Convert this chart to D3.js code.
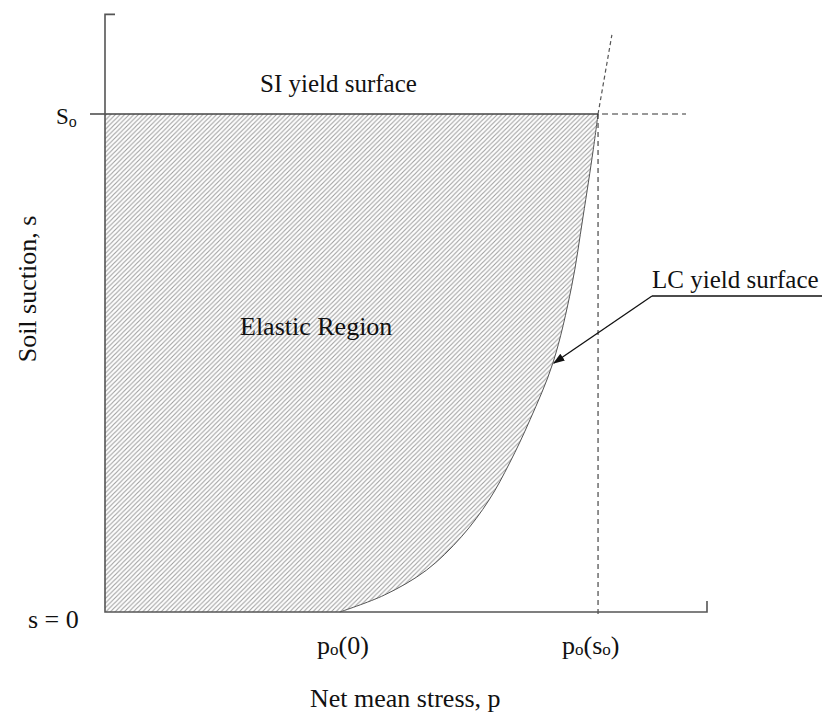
<!DOCTYPE html>
<html>
<head>
<meta charset="utf-8">
<script src="https://cdn.jsdelivr.net/npm/d3@7"></script>
<style>
  html, body { margin: 0; padding: 0; background: #fff; }
  svg text { font-family: "Liberation Serif", "Times New Roman", serif; fill: #111; }
</style>
</head>
<body>
<svg id="chart" width="827" height="715"></svg>
<script>
// Net mean stress (normalised) and suction (normalised to s_o = 1)
const pDomain = [0, 1];
const sDomain = [0, 1.2];

const p0Zero = 0.390;   // p_o(0)
const p0So = 0.819;     // p_o(s_o)
const sO = 1.0;         // s_o

// LC yield surface points (p, s)
const lcP = [0.390, 0.464, 0.534, 0.592, 0.638, 0.672, 0.706, 0.744, 0.775, 0.794, 0.811, 0.819];
const lcS = [0.000, 0.034, 0.084, 0.151, 0.225, 0.299, 0.386, 0.500, 0.653, 0.793, 0.928, 1.000];

// dashed continuation of the LC curve above s_o
const lcExtP = [0.819, 0.842];
const lcExtS = [1.000, 1.159];

const xTickLabels = ["0", "s"];

const svg = d3.select("#chart");
const x = d3.scaleLinear().domain(pDomain).range([105, 707]);
const y = d3.scaleLinear().domain(sDomain).range([612, 14.4]);

// hatch pattern
const defs = svg.append("defs");
const pat = defs.append("pattern")
  .attr("id", "hatch")
  .attr("patternUnits", "userSpaceOnUse")
  .attr("width", 4.6).attr("height", 4.6);
pat.append("path")
  .attr("d", "M-1,1 l2,-2 M0,4.6 l4.6,-4.6 M3.6,5.6 l2,-2")
  .attr("stroke", "#9e9e9e").attr("stroke-width", 1.1);

const lcPts = lcP.map((p, i) => [p, lcS[i]]);
const curveLine = d3.line().x(d => x(d[0])).y(d => y(d[1])).curve(d3.curveCatmullRom.alpha(0.5));

// elastic region: bounded by axes, SI line and the LC curve
const curvePath = curveLine(lcPts);
const regionPath = `M${x(0)},${y(0)} L${x(lcP[0])},${y(lcS[0])}` +
  curvePath.replace(/^M[^CLc]*/, "") +
  ` L${x(0)},${y(sO)} Z`;
svg.append("path").attr("d", regionPath).attr("fill", "url(#hatch)").attr("stroke", "none");

// LC curve
svg.append("path").attr("d", curvePath)
  .attr("fill", "none").attr("stroke", "#555").attr("stroke-width", 1);
svg.append("path")
  .attr("d", d3.line().x(d => x(d[0])).y(d => y(d[1]))(lcExtP.map((p, i) => [p, lcExtS[i]])))
  .attr("fill", "none").attr("stroke", "#555").attr("stroke-width", 1.2)
  .attr("stroke-dasharray", "4,3");

// SI yield line at s_o
svg.append("line")
  .attr("x1", x(0) - 15).attr("x2", x(p0So))
  .attr("y1", y(sO)).attr("y2", y(sO))
  .attr("stroke", "#444").attr("stroke-width", 1.3);
svg.append("line")
  .attr("x1", x(p0So) + 4).attr("x2", 686)
  .attr("y1", y(sO)).attr("y2", y(sO))
  .attr("stroke", "#333").attr("stroke-width", 1.2)
  .attr("stroke-dasharray", "6,4");

// vertical dashed at p_o(s_o)
svg.append("line")
  .attr("x1", x(p0So)).attr("x2", x(p0So))
  .attr("y1", y(sO)).attr("y2", y(0) + 4)
  .attr("stroke", "#222").attr("stroke-width", 1)
  .attr("stroke-dasharray", "5,4");

// axes
const axisColor = "#555";
svg.append("path")
  .attr("d", `M${x(0) + 10},${y(1.2)} H${x(0)} V${y(0)} H${x(1)} V${y(0) - 11}`)
  .attr("fill", "none").attr("stroke", axisColor).attr("stroke-width", 1.6);

// labels
svg.append("text").attr("x", 260).attr("y", 92).attr("font-size", 25).text("SI yield surface");
svg.append("text").attr("x", 240).attr("y", 335).attr("font-size", 26).text("Elastic Region");

svg.append("text").attr("x", 652).attr("y", 288).attr("font-size", 25).text("LC yield surface");
svg.append("line").attr("x1", 652).attr("x2", 822).attr("y1", 296).attr("y2", 296)
  .attr("stroke", "#111").attr("stroke-width", 1.3);

// arrow to the LC curve
defs.append("marker").attr("id", "arrow")
  .attr("viewBox", "0 0 10 10").attr("refX", 9).attr("refY", 5)
  .attr("markerWidth", 9).attr("markerHeight", 9).attr("orient", "auto")
  .append("path").attr("d", "M0,1.5 L10,5 L0,8.5 Z").attr("fill", "#111");
svg.append("line")
  .attr("x1", 652).attr("y1", 296)
  .attr("x2", x(0.744) + 1).attr("y2", y(0.5))
  .attr("stroke", "#111").attr("stroke-width", 1.3)
  .attr("marker-end", "url(#arrow)");

// y tick labels
const so = svg.append("text").attr("x", 56).attr("y", 124).attr("font-size", 23);
so.append("tspan").text("S");
so.append("tspan").attr("font-size", 16).attr("dy", 3).text("o");
svg.append("text").attr("x", 28).attr("y", 628).attr("font-size", 26).text("s = 0");

// x tick labels
const xl1 = svg.append("text").attr("x", 317).attr("y", 654).attr("font-size", 26);
xl1.append("tspan").text("p");
xl1.append("tspan").attr("font-size", 17).attr("dy", 1).text("o");
xl1.append("tspan").attr("dy", -1).text("(" + xTickLabels[0] + ")");

const xl2 = svg.append("text").attr("x", 562).attr("y", 654).attr("font-size", 26);
xl2.append("tspan").text("p");
xl2.append("tspan").attr("font-size", 17).attr("dy", 1).text("o");
xl2.append("tspan").attr("dy", -1).text("(" + xTickLabels[1]);
xl2.append("tspan").attr("font-size", 17).attr("dy", 1).text("o");
xl2.append("tspan").attr("dy", -1).text(")");

// axis titles
svg.append("text").attr("x", 310).attr("y", 707).attr("font-size", 26).text("Net mean stress, p");
svg.append("text")
  .attr("transform", "translate(36,289) rotate(-90)")
  .attr("text-anchor", "middle").attr("font-size", 26)
  .text("Soil suction, s");
</script>
</body>
</html>
